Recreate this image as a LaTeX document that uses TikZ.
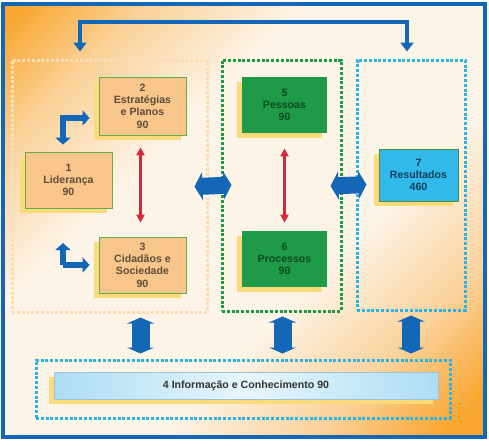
\documentclass[tikz,border=0pt]{standalone}
\usepackage{fontspec}
\setmainfont{Liberation Sans}
\usetikzlibrary{positioning,arrows.meta,shadows}
\definecolor{FrameBlue}{HTML}{1467B6}
\definecolor{BgOrange}{HTML}{F8A630}
\definecolor{BgMid}{HTML}{FAD39C}
\definecolor{BgPale}{HTML}{FDF4E8}
\definecolor{BoxOrange}{HTML}{F8C68A}
\definecolor{EdgeGreen}{HTML}{63AE4C}
\definecolor{TextBrown}{HTML}{5E4C3A}
\definecolor{BoxGreen}{HTML}{1F9A48}
\definecolor{TextGreen}{HTML}{0C4A20}
\definecolor{BoxCyan}{HTML}{31B9E9}
\definecolor{TextNavy}{HTML}{123F5C}
\definecolor{ShadowYellow}{HTML}{F9DB7C}
\definecolor{DotPeach}{HTML}{F8DDB5}
\definecolor{DotGreen}{HTML}{1E9A45}
\definecolor{DotCyan}{HTML}{2DB4E6}
\definecolor{BarBlue}{HTML}{ADDDF4}
\definecolor{BarPale}{HTML}{E8F6FC}
\definecolor{ArrowRed}{HTML}{D8263A}
\pgfdeclarehorizontalshading{bgglow}{100bp}{color(0bp)=(BgOrange); color(16bp)=(BgOrange); color(26bp)=(BgMid); color(38bp)=(BgPale); color(60bp)=(BgPale); color(72bp)=(BgMid); color(82bp)=(BgOrange); color(100bp)=(BgOrange)}

\begin{document}
\begin{tikzpicture}[x=1pt,y=-1pt,
  font=\fontsize{10.6}{12.3}\selectfont\bfseries,
  critbox/.style={minimum width=87pt,minimum height=56pt,align=center,line width=0.8pt,
    drop shadow={shadow xshift=-5pt,shadow yshift=-5pt,fill=ShadowYellow,opacity=1}},
  orangebox/.style={critbox,draw=EdgeGreen,fill=BoxOrange,text=TextBrown},
  greenbox/.style={critbox,minimum width=85pt,fill=BoxGreen,text=TextGreen},
  cyanbox/.style={critbox,minimum width=79pt,minimum height=52pt,draw=EdgeGreen!80!black,fill=BoxCyan,text=TextNavy},
  grpbox/.style={draw=#1,line width=3pt,dash pattern=on 3pt off 1.8pt},
  bluearrow/.style={draw=FrameBlue,line width=#1},
  redarrow/.style={draw=ArrowRed,line width=2.6pt,{Triangle[width=8pt,length=8pt]}-{Triangle[width=8pt,length=8pt]}}]
\useasboundingbox (0,0) rectangle (489,445);
% background and frame
\shade[shading=bgglow,shading angle=-45] (3,4) rectangle (485,437);
\draw[FrameBlue,line width=3.5pt] (3,4) rectangle (485,437);

% groups
\node[grpbox=DotPeach,minimum width=195pt,minimum height=252pt] (gLeft) at (109.5,186) {};
\node[grpbox=DotGreen,minimum width=119pt,minimum height=251pt] (gGreen) at (281.5,185.5) {};
\node[grpbox=DotCyan,minimum width=108pt,minimum height=250pt] (gCyan) at (411,185) {};
\node[grpbox=DotCyan,minimum width=414pt,minimum height=58pt] (gInfo) at (243,389) {};

% criteria
\node[orangebox,minimum height=58pt] (b2) at (142.5,106) {2\\Estratégias\\e Planos\\90};
\node[orangebox] (b1) at (68.5,180) {1\\Liderança\\90};
\node[orangebox] (b3) at (142.5,265) {3\\Cidadãos e\\Sociedade\\90};
\node[greenbox] (b5) at (284.5,105) {5\\Pessoas\\90};
\node[greenbox] (b6) at (284.5,259) {6\\Processos\\90};
\node[cyanbox] (b7) at (418.5,175) {7\\Resultados\\460};
\node[minimum width=384pt,minimum height=27pt,draw=BarBlue!70!gray,line width=0.5pt,
  left color=BarBlue,right color=BarBlue,middle color=BarPale,text=black!80,
  drop shadow={shadow xshift=-5pt,shadow yshift=-5pt,fill=ShadowYellow,opacity=1}]
  (b4) at (246,385.5) {4 Informação e Conhecimento 90};

% feedback loop
\coordinate (loopL) at (80,22);
\coordinate (loopR) at (407,22);
\draw[bluearrow=4pt,{Triangle[width=13pt,length=9pt]}-{Triangle[width=13pt,length=9pt]},shorten <=7pt,shorten >=7pt]
  (loopL |- gLeft.north) -- (loopL) -- (loopR) -- (loopR |- gCyan.north);

% leadership arrows
\coordinate (cornerA) at (63,118);
\coordinate (cornerB) at (63,265);
\draw[bluearrow=6pt,{Triangle[width=15pt,length=7pt]}-{Triangle[width=15pt,length=7pt]},shorten <=7pt,shorten >=9pt]
  (cornerA |- b1.north) -- (cornerA) -- (cornerA -| b2.west);
\draw[bluearrow=6pt,-{Triangle[width=15pt,length=7pt]},shorten >=9pt]
  (cornerB) -- (cornerB -| b3.west);
\draw[bluearrow=6pt,-{Triangle[width=15pt,length=7pt]}]
  (cornerB) -- ([yshift=22pt]cornerB);

% red links
\draw[redarrow,shorten <=12pt,shorten >=14pt] ([xshift=-2pt]b2.south) -- ([xshift=-2pt]b3.north);
\draw[redarrow,shorten <=15pt,shorten >=8pt] (b5.south) -- (b6.north);

% group links
\draw[bluearrow=17pt,{Triangle[width=28pt,length=8pt]}-{Triangle[width=28pt,length=8pt]},shorten <=-14pt,shorten >=-11pt]
  (gLeft.east) -- (gGreen.west);
\draw[bluearrow=17pt,{Triangle[width=28pt,length=8pt]}-{Triangle[width=28pt,length=8pt]},shorten <=-12pt,shorten >=-11pt]
  (gGreen.east) -- (gCyan.west);
\foreach \g/\b in {gLeft/b3,gGreen/b6}
  \draw[bluearrow=18pt,{Triangle[width=27pt,length=6pt]}-{Triangle[width=27pt,length=6pt]},shorten <=4pt,shorten >=5pt]
    ([xshift=-2pt]\b.center |- \g.south) -- ([xshift=-2pt]\b.center |- gInfo.north);
\draw[bluearrow=18pt,{Triangle[width=27pt,length=6pt]}-{Triangle[width=27pt,length=6pt]},shorten <=4pt,shorten >=5pt]
  (gCyan.south) -- (gCyan.south |- gInfo.north);
\end{tikzpicture}
\end{document}
